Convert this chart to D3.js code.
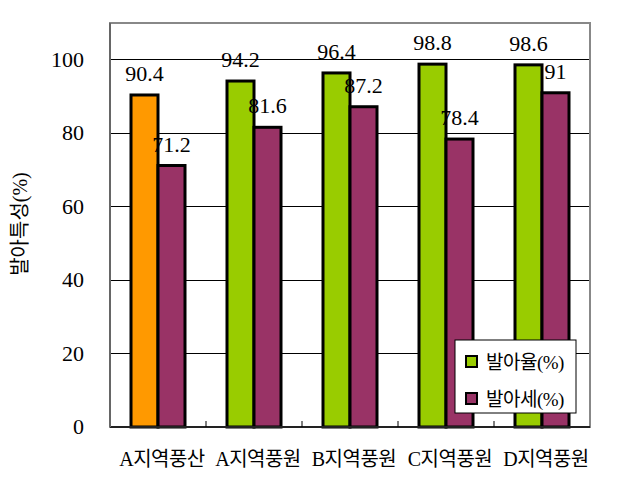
<!DOCTYPE html>
<html><head><meta charset="utf-8">
<script src="https://cdn.jsdelivr.net/npm/d3@7"></script>
<style>body{margin:0;background:#fff}</style>
</head><body>
<svg id="c" width="622" height="485"></svg>
<script>
const categories = ["A지역풍산","A지역풍원","B지역풍원","C지역풍원","D지역풍원"];
const germRate = [90.4, 94.2, 96.4, 98.8, 98.6];
const germVigor = [71.2, 81.6, 87.2, 78.4, 91];
const seriesNames = ["발아율(%)","발아세(%)"];
const yTicks = [0,20,40,60,80,100];
const yTitle = "발아특성(%)";

const svg = d3.select("#c");
const L=110, R=590, T=23, B=427;
const fontNum = "Liberation Serif, Noto Sans CJK KR, serif";
const x = d3.scaleBand().domain(categories).range([L,R]);
const y = d3.scaleLinear().domain([0,110]).range([B,T]);
const barW = 27;
const colGreen="#99CC00", colPurple="#993366", colOrange="#FF9900";

// gridlines
svg.append("g").selectAll("line").data(yTicks.filter(d=>d>0)).join("line")
  .attr("x1",L).attr("x2",R).attr("y1",d=>y(d)).attr("y2",d=>y(d))
  .attr("stroke","#000").attr("stroke-width",1).attr("shape-rendering","crispEdges");

// border
svg.append("rect").attr("x",L).attr("y",T).attr("width",R-L).attr("height",B-T)
  .attr("fill","none").attr("stroke","#888").attr("stroke-width",2);

// bars
const g = svg.append("g");
g.selectAll(".b1").data(categories).join("rect")
  .attr("x",(d)=>x(d)+x.bandwidth()/2-barW)
  .attr("y",(d,i)=>y(germRate[i])).attr("width",barW)
  .attr("height",(d,i)=>B-y(germRate[i]))
  .attr("fill",(d,i)=>i===0?colOrange:colGreen).attr("stroke","#000").attr("stroke-width",3);
g.selectAll(".b2").data(categories).join("rect")
  .attr("x",(d)=>x(d)+x.bandwidth()/2)
  .attr("y",(d,i)=>y(germVigor[i])).attr("width",barW)
  .attr("height",(d,i)=>B-y(germVigor[i]))
  .attr("fill",colPurple).attr("stroke","#000").attr("stroke-width",3);

// axes
svg.append("line").attr("x1",L).attr("x2",R).attr("y1",B).attr("y2",B).attr("stroke","#222").attr("stroke-width",2);
svg.append("line").attr("x1",L).attr("x2",L).attr("y1",T).attr("y2",B).attr("stroke","#666").attr("stroke-width",2);
svg.append("g").selectAll("line").data(categories.slice(1)).join("line")
  .attr("x1",d=>x(d)).attr("x2",d=>x(d)).attr("y1",B).attr("y2",B-6).attr("stroke","#000");

// value labels
const lab = svg.append("g").attr("font-family",fontNum).attr("font-size",22).attr("text-anchor","middle").attr("fill","#000");
lab.selectAll(".l1").data(categories).join("text")
  .attr("x",d=>x(d)+x.bandwidth()/2-barW/2)
  .attr("y",(d,i)=>y(germRate[i])-14).text((d,i)=>germRate[i]);
lab.selectAll(".l2").data(categories).join("text")
  .attr("x",d=>x(d)+x.bandwidth()/2+barW/2)
  .attr("y",(d,i)=>y(germVigor[i])-14).text((d,i)=>germVigor[i]);

// y tick labels
svg.append("g").attr("font-family",fontNum).attr("font-size",22).attr("text-anchor","end")
  .selectAll("text").data(yTicks).join("text")
  .attr("x",84).attr("y",d=>y(d)+7).text(d=>d);

// x labels
svg.append("g").attr("font-family",fontNum).attr("font-size",20).attr("text-anchor","middle")
  .attr("letter-spacing",-0.5)
  .selectAll("text").data(categories).join("text")
  .attr("x",d=>x(d)+x.bandwidth()/2+4).attr("y",466).text(d=>d);

// y title
svg.append("text").attr("transform","translate(27,224) rotate(-90)")
  .attr("font-family",fontNum).attr("font-size",20).attr("text-anchor","middle").text(yTitle);

// legend
const lg = svg.append("g");
lg.append("rect").attr("x",455).attr("y",340).attr("width",121).attr("height",73)
  .attr("fill","#fff").attr("stroke","#000").attr("stroke-width",1);
[colGreen,colPurple].forEach((c,i)=>{
  lg.append("rect").attr("x",466).attr("y",356+i*37).attr("width",11).attr("height",11)
    .attr("fill",c).attr("stroke","#000").attr("stroke-width",2);
  lg.append("text").attr("x",486).attr("y",369+i*37).attr("font-family",fontNum)
    .attr("font-size",19).attr("letter-spacing",-0.5).text(seriesNames[i]);
});
</script>
</body></html>
